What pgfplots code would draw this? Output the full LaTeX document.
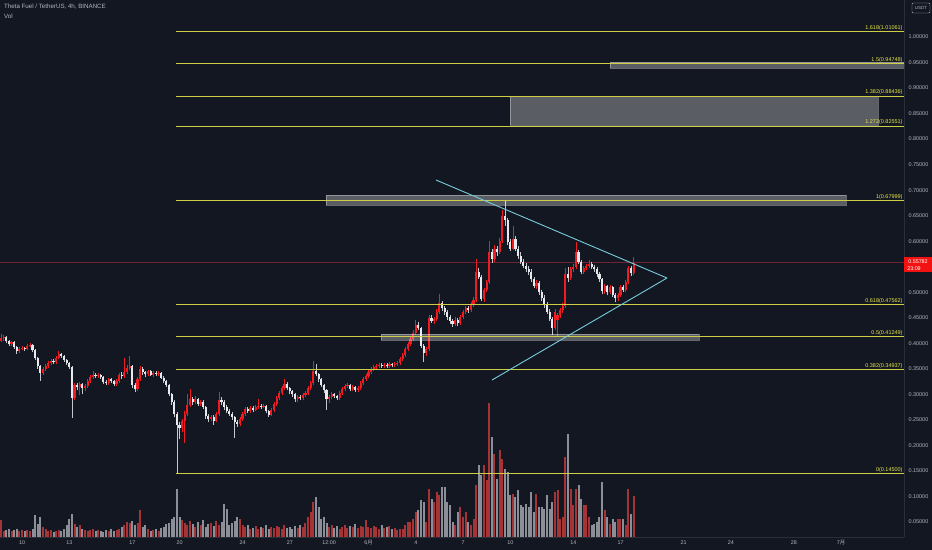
\documentclass[border=0pt]{standalone}
\usepackage{fontspec}
\setmainfont{Liberation Sans}
\newfontfamily\cjk{Noto Sans CJK SC}
\usepackage{pgfplots}
\usepackage{pgfplotstable}
\pgfplotsset{compat=1.18}
\definecolor{bg}{RGB}{19,23,34}
\definecolor{sep}{RGB}{42,46,57}
\definecolor{txt}{RGB}{178,181,190}
\definecolor{upc}{RGB}{240,28,34}
\definecolor{dnc}{RGB}{232,233,238}
\definecolor{upv}{RGB}{165,52,55}
\definecolor{dnv}{RGB}{140,143,152}
\definecolor{fib}{RGB}{205,205,70}
\definecolor{fibt}{RGB}{232,232,70}
\definecolor{cyanl}{RGB}{120,205,220}
\definecolor{pline}{RGB}{110,38,52}
\definecolor{plab}{RGB}{242,18,18}

\pgfplotstableread{
i o h l c v
0 0.400 0.412 0.396 0.405 8
1 0.405 0.418 0.402 0.410 17
2 0.410 0.416 0.405 0.412 6
3 0.412 0.414 0.400 0.404 7
4 0.404 0.406 0.394 0.398 8
5 0.398 0.405 0.395 0.402 6
6 0.402 0.404 0.388 0.392 7
7 0.392 0.394 0.380 0.384 8
8 0.384 0.392 0.381 0.389 6
9 0.389 0.395 0.386 0.391 7
10 0.391 0.393 0.385 0.388 6
11 0.388 0.398 0.386 0.395 7
12 0.395 0.401 0.392 0.396 6
13 0.396 0.398 0.383 0.386 8
14 0.386 0.388 0.368 0.372 22
15 0.372 0.374 0.350 0.355 13
16 0.355 0.357 0.326 0.342 20
17 0.342 0.353 0.338 0.350 10
18 0.350 0.360 0.346 0.356 8
19 0.356 0.366 0.352 0.362 6
20 0.362 0.370 0.358 0.366 7
21 0.366 0.369 0.359 0.363 5
22 0.363 0.376 0.360 0.372 6
23 0.372 0.384 0.369 0.380 7
24 0.380 0.382 0.372 0.376 6
25 0.376 0.378 0.364 0.368 8
26 0.368 0.370 0.358 0.362 12
27 0.362 0.364 0.350 0.354 18
28 0.354 0.356 0.254 0.292 23
29 0.292 0.322 0.288 0.318 13
30 0.318 0.322 0.308 0.314 10
31 0.314 0.325 0.298 0.320 12
32 0.320 0.323 0.300 0.312 8
33 0.312 0.320 0.306 0.316 7
34 0.316 0.330 0.312 0.326 6
35 0.326 0.338 0.322 0.334 7
36 0.334 0.345 0.330 0.338 8
37 0.338 0.342 0.332 0.336 6
38 0.336 0.342 0.333 0.338 7
39 0.338 0.340 0.330 0.334 6
40 0.334 0.336 0.321 0.325 5
41 0.325 0.328 0.318 0.322 7
42 0.322 0.333 0.319 0.330 6
43 0.330 0.332 0.322 0.326 8
44 0.326 0.329 0.316 0.320 6
45 0.320 0.330 0.317 0.326 7
46 0.326 0.342 0.323 0.338 8
47 0.338 0.344 0.331 0.336 10
48 0.336 0.372 0.333 0.344 12
49 0.344 0.358 0.340 0.352 15
50 0.352 0.375 0.348 0.356 14
51 0.356 0.358 0.312 0.318 16
52 0.318 0.322 0.304 0.310 12
53 0.310 0.334 0.306 0.330 14
54 0.330 0.356 0.326 0.350 27
55 0.350 0.353 0.338 0.343 10
56 0.343 0.346 0.334 0.340 12
57 0.340 0.348 0.336 0.345 8
58 0.345 0.347 0.335 0.338 6
59 0.338 0.345 0.334 0.342 7
60 0.342 0.346 0.336 0.340 8
61 0.340 0.345 0.336 0.342 6
62 0.342 0.344 0.330 0.333 9
63 0.333 0.336 0.322 0.326 10
64 0.326 0.328 0.314 0.318 13
65 0.318 0.320 0.296 0.300 14
66 0.300 0.302 0.280 0.285 18
67 0.285 0.288 0.255 0.262 20
68 0.262 0.265 0.145 0.240 48
69 0.240 0.246 0.212 0.234 20
70 0.234 0.252 0.226 0.248 17
71 0.248 0.268 0.205 0.262 14
72 0.262 0.300 0.258 0.280 12
73 0.280 0.310 0.276 0.290 16
74 0.290 0.294 0.280 0.286 13
75 0.286 0.296 0.282 0.290 10
76 0.290 0.293 0.278 0.282 15
77 0.282 0.289 0.278 0.285 12
78 0.285 0.288 0.272 0.276 17
79 0.276 0.278 0.252 0.258 10
80 0.258 0.262 0.246 0.252 13
81 0.252 0.260 0.248 0.256 14
82 0.256 0.259 0.240 0.248 11
83 0.248 0.266 0.245 0.262 16
84 0.262 0.305 0.258 0.288 12
85 0.288 0.294 0.280 0.285 15
86 0.285 0.288 0.270 0.276 33
87 0.276 0.280 0.264 0.268 28
88 0.268 0.271 0.258 0.262 12
89 0.262 0.265 0.250 0.255 14
90 0.255 0.258 0.215 0.245 16
91 0.245 0.250 0.236 0.242 20
92 0.242 0.256 0.238 0.252 18
93 0.252 0.266 0.248 0.262 12
94 0.262 0.276 0.258 0.272 10
95 0.272 0.276 0.264 0.268 12
96 0.268 0.278 0.264 0.274 8
97 0.274 0.277 0.266 0.270 9
98 0.270 0.279 0.267 0.275 11
99 0.275 0.290 0.272 0.278 8
100 0.278 0.282 0.272 0.276 10
101 0.276 0.282 0.273 0.278 9
102 0.278 0.280 0.264 0.268 12
103 0.268 0.270 0.256 0.260 8
104 0.260 0.274 0.257 0.270 10
105 0.270 0.286 0.266 0.282 9
106 0.282 0.296 0.278 0.292 11
107 0.292 0.306 0.288 0.302 10
108 0.302 0.316 0.298 0.312 8
109 0.312 0.330 0.308 0.320 12
110 0.320 0.324 0.308 0.312 9
111 0.312 0.315 0.300 0.306 10
112 0.306 0.309 0.295 0.300 8
113 0.300 0.302 0.286 0.290 11
114 0.290 0.298 0.286 0.294 9
115 0.294 0.298 0.288 0.292 12
116 0.292 0.302 0.289 0.298 10
117 0.298 0.306 0.294 0.302 14
118 0.302 0.316 0.298 0.312 20
119 0.312 0.326 0.308 0.322 25
120 0.322 0.365 0.318 0.346 35
121 0.346 0.360 0.335 0.340 40
122 0.340 0.342 0.325 0.330 30
123 0.330 0.333 0.314 0.318 18
124 0.318 0.320 0.302 0.308 20
125 0.308 0.310 0.270 0.290 14
126 0.290 0.298 0.284 0.295 10
127 0.295 0.304 0.290 0.300 12
128 0.300 0.303 0.292 0.296 9
129 0.296 0.299 0.288 0.292 11
130 0.292 0.306 0.289 0.302 8
131 0.302 0.314 0.298 0.310 10
132 0.310 0.320 0.306 0.316 12
133 0.316 0.323 0.312 0.318 9
134 0.318 0.321 0.306 0.310 11
135 0.310 0.318 0.306 0.314 10
136 0.314 0.316 0.304 0.308 13
137 0.308 0.316 0.304 0.312 9
138 0.312 0.326 0.309 0.322 11
139 0.322 0.334 0.318 0.330 10
140 0.330 0.340 0.326 0.336 17
141 0.336 0.348 0.332 0.344 10
142 0.344 0.354 0.340 0.350 9
143 0.350 0.358 0.346 0.354 11
144 0.354 0.360 0.350 0.356 10
145 0.356 0.362 0.352 0.358 8
146 0.358 0.361 0.352 0.356 12
147 0.356 0.362 0.352 0.358 9
148 0.358 0.361 0.351 0.355 10
149 0.355 0.363 0.352 0.359 11
150 0.359 0.362 0.353 0.357 8
151 0.357 0.364 0.354 0.360 9
152 0.360 0.366 0.356 0.362 7
153 0.362 0.374 0.358 0.370 8
154 0.370 0.382 0.366 0.378 8
155 0.378 0.392 0.374 0.388 12
156 0.388 0.402 0.384 0.398 15
157 0.398 0.412 0.394 0.408 15
158 0.408 0.426 0.404 0.420 18
159 0.420 0.446 0.416 0.436 25
160 0.436 0.442 0.426 0.430 27
161 0.430 0.432 0.390 0.395 37
162 0.395 0.398 0.363 0.381 35
163 0.381 0.392 0.376 0.388 15
164 0.388 0.456 0.384 0.450 48
165 0.450 0.456 0.440 0.444 38
166 0.444 0.452 0.438 0.448 35
167 0.448 0.468 0.444 0.462 45
168 0.462 0.497 0.458 0.478 42
169 0.478 0.482 0.464 0.470 50
170 0.470 0.474 0.456 0.462 50
171 0.462 0.466 0.446 0.452 35
172 0.452 0.456 0.438 0.444 32
173 0.444 0.448 0.432 0.438 15
174 0.438 0.452 0.434 0.446 12
175 0.446 0.450 0.434 0.440 25
176 0.440 0.456 0.436 0.452 30
177 0.452 0.466 0.448 0.462 20
178 0.462 0.474 0.458 0.470 25
179 0.470 0.474 0.460 0.466 15
180 0.466 0.480 0.462 0.476 12
181 0.476 0.490 0.472 0.485 18
182 0.485 0.565 0.481 0.540 52
183 0.540 0.548 0.526 0.530 72
184 0.530 0.534 0.482 0.487 62
185 0.487 0.508 0.480 0.505 72
186 0.505 0.524 0.500 0.520 57
187 0.520 0.600 0.516 0.578 134
188 0.578 0.584 0.558 0.565 100
189 0.565 0.592 0.560 0.585 83
190 0.585 0.590 0.572 0.578 58
191 0.578 0.606 0.574 0.600 87
192 0.600 0.662 0.596 0.650 78
193 0.650 0.680 0.630 0.642 68
194 0.642 0.646 0.592 0.598 65
195 0.598 0.604 0.580 0.585 42
196 0.585 0.630 0.582 0.605 43
197 0.605 0.610 0.580 0.585 40
198 0.585 0.590 0.566 0.572 47
199 0.572 0.578 0.556 0.560 32
200 0.560 0.566 0.548 0.552 30
201 0.552 0.558 0.540 0.546 33
202 0.546 0.552 0.534 0.540 30
203 0.540 0.545 0.520 0.525 45
204 0.525 0.530 0.508 0.512 25
205 0.512 0.524 0.506 0.518 43
206 0.518 0.522 0.495 0.500 30
207 0.500 0.505 0.482 0.488 30
208 0.488 0.494 0.470 0.475 28
209 0.475 0.480 0.458 0.462 42
210 0.462 0.468 0.444 0.448 28
211 0.448 0.452 0.416 0.430 35
212 0.430 0.468 0.426 0.462 45
213 0.446 0.460 0.414 0.455 47
214 0.455 0.470 0.450 0.466 18
215 0.466 0.478 0.460 0.474 20
216 0.474 0.548 0.470 0.535 80
217 0.535 0.550 0.520 0.528 103
218 0.528 0.550 0.524 0.545 48
219 0.545 0.556 0.540 0.550 32
220 0.550 0.598 0.546 0.578 48
221 0.578 0.582 0.555 0.560 52
222 0.560 0.564 0.535 0.540 38
223 0.540 0.552 0.536 0.548 32
224 0.548 0.556 0.543 0.552 32
225 0.552 0.563 0.548 0.556 20
226 0.556 0.560 0.546 0.550 12
227 0.550 0.554 0.540 0.545 13
228 0.545 0.549 0.530 0.535 15
229 0.535 0.540 0.520 0.525 20
230 0.525 0.528 0.496 0.502 55
231 0.502 0.516 0.497 0.512 27
232 0.512 0.515 0.494 0.500 20
233 0.500 0.514 0.496 0.510 13
234 0.510 0.513 0.490 0.495 18
235 0.495 0.498 0.480 0.488 15
236 0.488 0.498 0.483 0.494 18
237 0.494 0.514 0.490 0.510 18
238 0.510 0.514 0.500 0.505 18
239 0.505 0.524 0.501 0.520 12
240 0.520 0.552 0.516 0.548 48
241 0.548 0.552 0.532 0.538 23
242 0.538 0.570 0.534 0.5578 41
}\candles

\pgfplotsset{
  tvaxis/.style={
    at={(0,13bp)}, anchor=south west,
    width=904bp, height=537bp, scale only axis,
    xmin=8.603, xmax=66.0,
  },
}

\begin{document}
\begin{tikzpicture}
\fill[bg] (0,0) rectangle (932bp,550bp);

% volume overlay
\begin{axis}[tvaxis, ymin=0, ymax=537, hide axis]
\addplot[ycomb, draw=upv, line width=2bp, mark=none,
  restrict expr to domain={\thisrow{c}-\thisrow{o}}{0:1}]
  table[x expr=\thisrow{i}/6+8.5, y=v]{\candles};
\addplot[ycomb, draw=dnv, line width=2bp, mark=none,
  restrict expr to domain={\thisrow{c}-\thisrow{o}}{-1:-0.0001}]
  table[x expr=\thisrow{i}/6+8.5, y=v]{\candles};
\end{axis}

% price pane
\begin{axis}[tvaxis, ymin=0.0206, ymax=1.0725,
  axis x line*=bottom, axis y line*=right,
  axis line style={draw=sep, line width=0.8bp},
  major tick length=0pt, tick style={draw=none},
  ytick={0.05,0.10,0.15,0.20,0.25,0.30,0.35,0.40,0.45,0.50,0.60,0.65,0.70,0.75,0.80,0.85,0.90,0.95,1.00},
  yticklabels={0.05000,0.10000,0.15000,0.20000,0.25000,0.30000,0.35000,0.40000,0.45000,0.50000,0.60000,0.65000,0.70000,0.75000,0.80000,0.85000,0.90000,0.95000,1.00000},
  yticklabel style={font=\fontsize{5.5}{6}\selectfont, text=txt, anchor=west, xshift=1bp},
  xtick={10,13,17,20,24,27,29.5,32,35,38,41,45,48,52,55,59,62},
  xticklabels={10,13,17,20,24,27,12:00,6{\cjk 月},4,7,10,14,17,21,24,28,7{\cjk 月}},
  xticklabel style={font=\fontsize{5.4}{6}\selectfont, text=txt, anchor=center, yshift=-5.5bp},
]
% current price line
\addplot[pline, line width=0.6bp] coordinates {(8.603,0.55782) (66.0,0.55782)};

% candles: wicks (low to high), as vertical segments
\addplot[forget plot, draw=upc, line width=0.7bp, mark=none, -,
  restrict expr to domain={\thisrow{c}-\thisrow{o}}{0:1},
  quiver={u=0, v=\thisrow{h}-\thisrow{l}}]
  table[x expr=\thisrow{i}/6+8.5, y=l]{\candles};
\addplot[forget plot, draw=dnc!85!black, line width=0.7bp, mark=none, -,
  restrict expr to domain={\thisrow{c}-\thisrow{o}}{-1:-0.0001},
  quiver={u=0, v=\thisrow{h}-\thisrow{l}}]
  table[x expr=\thisrow{i}/6+8.5, y=l]{\candles};
% candles: bodies (open to close)
\addplot[forget plot, draw=upc, line width=2.1bp, mark=none, -,
  restrict expr to domain={\thisrow{c}-\thisrow{o}}{0:1},
  quiver={u=0, v=\thisrow{c}-\thisrow{o}}]
  table[x expr=\thisrow{i}/6+8.5, y=o]{\candles};
\addplot[forget plot, draw=dnc, line width=2.1bp, mark=none, -,
  restrict expr to domain={\thisrow{c}-\thisrow{o}}{-1:-0.0001},
  quiver={u=0, v=\thisrow{o}-\thisrow{c}}]
  table[x expr=\thisrow{i}/6+8.5, y=c]{\candles};

% zones
\addplot[fill=white, fill opacity=0.3, draw=white, draw opacity=0.35, line width=0.4bp] coordinates {(47.333,0.951) (66.0,0.951) (66.0,0.939) (47.333,0.939)} -- cycle;
\addplot[fill=white, fill opacity=0.3, draw=white, draw opacity=0.35, line width=0.4bp] coordinates {(40.984,0.884) (64.349,0.884) (64.349,0.827) (40.984,0.827)} -- cycle;
\addplot[fill=white, fill opacity=0.3, draw=white, draw opacity=0.35, line width=0.4bp] coordinates {(29.302,0.690) (62.317,0.690) (62.317,0.671) (29.302,0.671)} -- cycle;
\addplot[fill=white, fill opacity=0.3, draw=white, draw opacity=0.35, line width=0.4bp] coordinates {(32.794,0.418) (52.984,0.418) (52.984,0.406) (32.794,0.406)} -- cycle;

% fibonacci levels
\addplot[fib, line width=1bp] coordinates {(19.778,1.01061) (66.0,1.01061)};
\addplot[fib, line width=1bp] coordinates {(19.778,0.94748) (66.0,0.94748)};
\addplot[fib, line width=1bp] coordinates {(19.778,0.88436) (66.0,0.88436)};
\addplot[fib, line width=1bp] coordinates {(19.778,0.82551) (66.0,0.82551)};
\addplot[fib, line width=1bp] coordinates {(19.778,0.67999) (66.0,0.67999)};
\addplot[fib, line width=1bp] coordinates {(19.778,0.47562) (66.0,0.47562)};
\addplot[fib, line width=1bp] coordinates {(19.778,0.41249) (66.0,0.41249)};
\addplot[fib, line width=1bp] coordinates {(19.778,0.34937) (66.0,0.34937)};
\addplot[fib, line width=1bp] coordinates {(19.778,0.14500) (66.0,0.14500)};
\begin{scope}[every node/.style={anchor=south east, inner sep=0.8bp, text=fibt, font=\fontsize{5.5}{6}\selectfont}]
\node at (axis cs:65.97,1.01061) {1.618(1.01061)};
\node at (axis cs:65.97,0.94748) {1.5(0.94748)};
\node at (axis cs:65.97,0.88436) {1.382(0.88436)};
\node at (axis cs:65.97,0.82551) {1.272(0.82551)};
\node at (axis cs:65.97,0.67999) {1(0.67999)};
\node at (axis cs:65.97,0.47562) {0.618(0.47562)};
\node at (axis cs:65.97,0.41249) {0.5(0.41249)};
\node at (axis cs:65.97,0.34937) {0.382(0.34937)};
\node at (axis cs:65.97,0.14500) {0(0.14500)};
\end{scope}

% triangle trend lines
\addplot[cyanl, line width=0.9bp] coordinates {(36.286,0.7199) (50.952,0.5279)};
\addplot[cyanl, line width=0.9bp] coordinates {(39.841,0.3281) (50.952,0.5279)};
\end{axis}

% header texts
\node[anchor=west, text=txt, font=\fontsize{6.2}{7}\selectfont, inner sep=0pt] at (4bp,543bp) {Theta Fuel / TetherUS, 4h, BINANCE};
\node[anchor=west, text=txt, font=\fontsize{6.2}{7}\selectfont, inner sep=0pt] at (4bp,534bp) {Vol};
% currency badge
\draw[txt, line width=0.4bp, rounded corners=1bp] (912bp,537bp) rectangle (930bp,547bp);
\node[text=txt, font=\fontsize{4.5}{5}\selectfont, inner sep=0pt] at (921bp,542bp) {USDT};
% last price badge
\fill[plab] (904bp,278bp) rectangle (932bp,293bp);
\node[text=white, font=\fontsize{5.4}{6}\selectfont, inner sep=0pt] at (918bp,288.5bp) {0.55782};
\node[text=white, font=\fontsize{5.4}{6}\selectfont, inner sep=0pt] at (914bp,281.8bp) {23:09};

\pgfresetboundingbox
\useasboundingbox (0,0) rectangle (932bp,550bp);
\end{tikzpicture}
\end{document}
